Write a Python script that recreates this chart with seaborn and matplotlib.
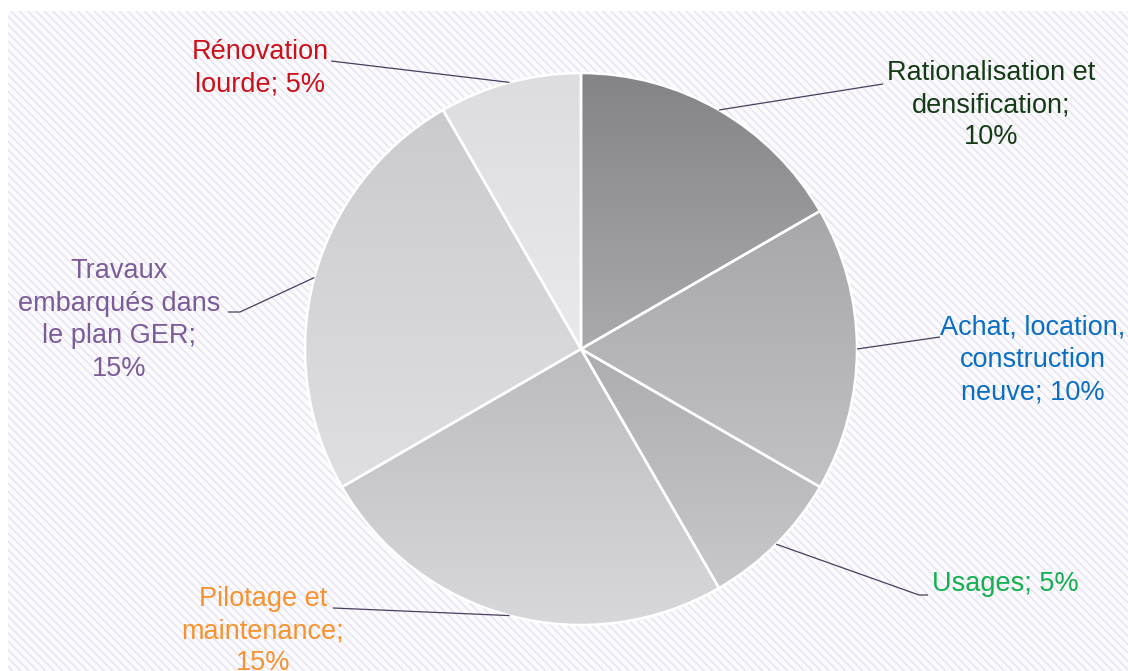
import numpy as np
import matplotlib
matplotlib.use("Agg")
import matplotlib.pyplot as plt
import seaborn as sns
from matplotlib.patches import Rectangle

# ---- data ----
categories = [
    "Rationalisation et\ndensification;\n10%",
    "Achat, location,\nconstruction\nneuve; 10%",
    "Usages; 5%",
    "Pilotage et\nmaintenance;\n15%",
    "Travaux\nembarqués dans\nle plan GER;\n15%",
    "Rénovation\nlourde; 5%",
]
values = [10, 10, 5, 15, 15, 5]
label_colors = ["#143c14", "#0a6fc2", "#12b04e", "#f7922e", "#7c5c98", "#cc1018"]
grad_top = ["#848388", "#a7a6aa", "#adacb1", "#bcbbbf", "#cbcace", "#dddcdf"]
grad_bottom = ["#aaa9ad", "#c2c1c5", "#c8c7cb", "#d8d7db", "#dfdee1", "#e9e9eb"]

# label layout (pixel coords from top-left): text position, alignment, leader elbow points
text_pos = [(991, 105), (1033, 360), (932, 584), (263, 631), (119, 320), (260, 68)]
text_ha = ["center", "center", "left", "center", "center", "center"]
elbows = [
    [(883, 84)],
    [(940, 337)],
    [(919, 595), (928, 595)],
    [(333, 608)],
    [(240, 312), (228, 312)],
    [(331, 61)],
]

W, H = 1128, 671
CX, CY, R = 581, 349, 276

sns.set_theme(style="white")
plt.rcParams["font.family"] = ["Liberation Sans", "DejaVu Sans"]
plt.rcParams["hatch.linewidth"] = 1.0


def Y(py):
    return H - py


fig = plt.figure(figsize=(W / 100, H / 100), dpi=100)
ax = fig.add_axes([0, 0, 1, 1])

# hatched background panel
bg = Rectangle((8, 0), W - 8, H - 11, facecolor="#fbfafd", edgecolor="#e6e2f1",
               hatch="\\\\\\\\", linewidth=0, zorder=0)
ax.add_patch(bg)

wedges, _ = ax.pie(values, startangle=90, counterclock=False, center=(CX, Y(CY)),
                   radius=R, frame=True,
                   wedgeprops=dict(linewidth=0, zorder=1),
                   colors=[sns.blend_palette([t, b], 3)[1] for t, b in zip(grad_top, grad_bottom)])

grad = np.linspace(0, 1, 256).reshape(-1, 1)
for w, t, b in zip(wedges, grad_top, grad_bottom):
    bb = w.get_path().get_extents()
    cmap = sns.blend_palette([t, b], as_cmap=True)
    im = ax.imshow(grad, cmap=cmap, extent=[bb.x0, bb.x1, bb.y0, bb.y1],
                   origin="upper", aspect="auto", zorder=2, interpolation="bilinear")
    im.set_clip_path(w)

ax.pie(values, startangle=90, counterclock=False, center=(CX, Y(CY)), radius=R,
       frame=True, wedgeprops=dict(fill=False, edgecolor="white", linewidth=1.8, zorder=3))

# leader lines and labels
for w, lab, col, (tx, ty), ha, elb in zip(wedges, categories, label_colors,
                                          text_pos, text_ha, elbows):
    mid = np.deg2rad((w.theta1 + w.theta2) / 2)
    ax_x = w.center[0] + w.r * np.cos(mid)
    ax_y = w.center[1] + w.r * np.sin(mid)
    xs = [ax_x] + [p[0] for p in elb]
    ys = [ax_y] + [Y(p[1]) for p in elb]
    ax.plot(xs, ys, color="#4b3d5e", linewidth=0.9, zorder=4, solid_capstyle="butt")
    ax.text(tx, Y(ty), lab, color=col, fontsize=19.5, ha=ha, va="center",
            multialignment="center", linespacing=1.32, zorder=5)

ax.set_xlim(0, W)
ax.set_ylim(0, H)
ax.axis("off")

fig.savefig("out.png", dpi=100, facecolor="white")
